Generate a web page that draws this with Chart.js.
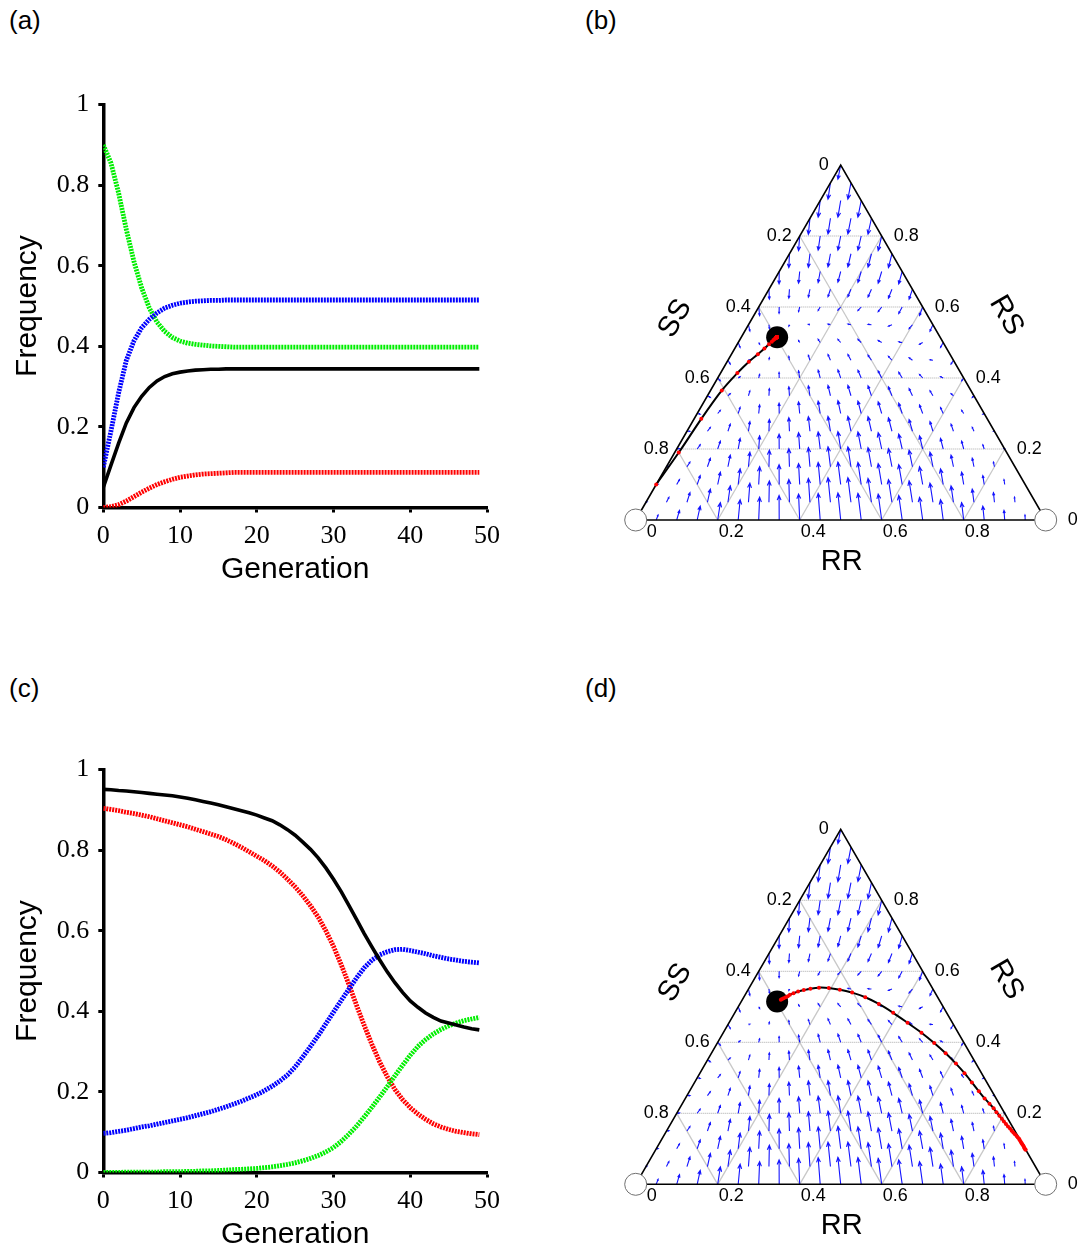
<!DOCTYPE html>
<html>
<head>
<meta charset="utf-8">
<title>Genotype dynamics</title>
<script src="https://cdn.jsdelivr.net/npm/chart.js@4.4.1/dist/chart.umd.min.js"></script>
<style>
  html, body { margin: 0; padding: 0; background: #fff; overflow: hidden; }
  body { position: relative; width: 1078px; height: 1250px; font-family: "Liberation Sans", Arial, sans-serif; }
  canvas { position: absolute; }
  .tag { position: absolute; font-size: 26px; line-height: 26px; color: #000; }
</style>
</head>
<body>
<div class="tag" style="left:9px; top:7px;">(a)</div>
<div class="tag" style="left:585px; top:7px;">(b)</div>
<div class="tag" style="left:9px; top:675px;">(c)</div>
<div class="tag" style="left:585px; top:675px;">(d)</div>

<canvas id="chart-a" width="510" height="520" style="left:0; top:80px; width:510px; height:520px;"></canvas>
<canvas id="chart-b" width="492" height="448" style="left:586px; top:136px; width:492px; height:448px;"></canvas>
<canvas id="chart-c" width="510" height="505" style="left:0; top:745px; width:510px; height:505px;"></canvas>
<canvas id="chart-d" width="492" height="448" style="left:586px; top:800px; width:492px; height:448px;"></canvas>

<script>
// ---------- data ----------
const generations = [0, 1, 2, 3, 4, 5, 6, 7, 8, 9, 10, 11, 12, 13, 14, 15, 16, 17, 18, 19,
  20, 21, 22, 23, 24, 25, 26, 27, 28, 29, 30, 31, 32, 33, 34, 35, 36, 37, 38, 39,
  40, 41, 42, 43, 44, 45, 46, 47, 48, 49];
const freqTicks = [0, 0.2, 0.4, 0.6, 0.8, 1];
const genTicks = [0, 10, 20, 30, 40, 50];
const ternaryTicks = [0, 0.2, 0.4, 0.6, 0.8];

// panel (a): R allele (black), RS (blue), SS (green), RR (red)
const aAlleleR = [0.05, 0.105, 0.16, 0.21, 0.248, 0.276, 0.298, 0.314, 0.325, 0.332,
  0.336, 0.339, 0.341, 0.342, 0.343, 0.343, 0.344, 0.344, 0.344, 0.344,
  0.344, 0.344, 0.344, 0.344, 0.344, 0.344, 0.344, 0.344, 0.344, 0.344,
  0.344, 0.344, 0.344, 0.344, 0.344, 0.344, 0.344, 0.344, 0.344, 0.344,
  0.344, 0.344, 0.344, 0.344, 0.344, 0.344, 0.344, 0.344, 0.344, 0.344];
const aRS = [0.10, 0.19, 0.285, 0.365, 0.414, 0.446, 0.467, 0.483, 0.495, 0.502,
  0.507, 0.51, 0.512, 0.513, 0.514, 0.514, 0.515, 0.515, 0.515, 0.515,
  0.515, 0.515, 0.515, 0.515, 0.515, 0.515, 0.515, 0.515, 0.515, 0.515,
  0.515, 0.515, 0.515, 0.515, 0.515, 0.515, 0.515, 0.515, 0.515, 0.515,
  0.515, 0.515, 0.515, 0.515, 0.515, 0.515, 0.515, 0.515, 0.515, 0.515];
const aSS = [0.90, 0.855, 0.78, 0.69, 0.61, 0.545, 0.495, 0.46, 0.437, 0.422,
  0.413, 0.408, 0.405, 0.403, 0.401, 0.400, 0.399, 0.398, 0.398, 0.398,
  0.398, 0.398, 0.398, 0.398, 0.398, 0.398, 0.398, 0.398, 0.398, 0.398,
  0.398, 0.398, 0.398, 0.398, 0.398, 0.398, 0.398, 0.398, 0.398, 0.398,
  0.398, 0.398, 0.398, 0.398, 0.398, 0.398, 0.398, 0.398, 0.398, 0.398];
const aRR = [0, 0.002, 0.007, 0.016, 0.027, 0.038, 0.048, 0.057, 0.064, 0.070,
  0.075, 0.078, 0.081, 0.083, 0.084, 0.085, 0.086, 0.087, 0.087, 0.087,
  0.087, 0.087, 0.087, 0.087, 0.087, 0.087, 0.087, 0.087, 0.087, 0.087,
  0.087, 0.087, 0.087, 0.087, 0.087, 0.087, 0.087, 0.087, 0.087, 0.087,
  0.087, 0.087, 0.087, 0.087, 0.087, 0.087, 0.087, 0.087, 0.087, 0.087];

// panel (c)
const cAlleleR = [0.951, 0.950, 0.948, 0.947, 0.945, 0.943, 0.941, 0.939, 0.937, 0.935,
  0.932, 0.929, 0.925, 0.921, 0.917, 0.913, 0.908, 0.903, 0.898, 0.893,
  0.887, 0.880, 0.873, 0.863, 0.851, 0.837, 0.820, 0.802, 0.781, 0.756,
  0.728, 0.697, 0.663, 0.628, 0.593, 0.560, 0.528, 0.498, 0.471, 0.447,
  0.426, 0.410, 0.396, 0.385, 0.376, 0.371, 0.366, 0.361, 0.357, 0.354];
const cRS = [0.097, 0.099, 0.102, 0.105, 0.109, 0.113, 0.116, 0.120, 0.124, 0.128,
  0.132, 0.136, 0.141, 0.146, 0.151, 0.157, 0.163, 0.170, 0.177, 0.185,
  0.193, 0.203, 0.214, 0.227, 0.242, 0.262, 0.287, 0.313, 0.340, 0.369,
  0.398, 0.427, 0.455, 0.483, 0.508, 0.527, 0.540, 0.548, 0.553, 0.554,
  0.551, 0.547, 0.543, 0.538, 0.534, 0.530, 0.527, 0.524, 0.522, 0.520];
const cSS = [0.000, 0.000, 0.000, 0.001, 0.001, 0.001, 0.001, 0.001, 0.002, 0.002,
  0.002, 0.003, 0.003, 0.004, 0.004, 0.005, 0.006, 0.007, 0.008, 0.009,
  0.010, 0.012, 0.014, 0.017, 0.020, 0.024, 0.029, 0.035, 0.042, 0.051,
  0.062, 0.077, 0.095, 0.115, 0.138, 0.162, 0.187, 0.213, 0.240, 0.266,
  0.291, 0.313, 0.330, 0.344, 0.355, 0.364, 0.371, 0.377, 0.381, 0.385];
const cRR = [0.904, 0.901, 0.898, 0.894, 0.891, 0.887, 0.883, 0.878, 0.873, 0.868,
  0.863, 0.858, 0.852, 0.846, 0.840, 0.834, 0.826, 0.817, 0.807, 0.796,
  0.785, 0.774, 0.761, 0.746, 0.728, 0.709, 0.687, 0.662, 0.634, 0.600,
  0.561, 0.516, 0.467, 0.415, 0.365, 0.318, 0.275, 0.238, 0.206, 0.181,
  0.161, 0.145, 0.132, 0.121, 0.113, 0.107, 0.102, 0.099, 0.096, 0.094];

// equilibria in (R allele, RS) coordinates
const stablePoint = [0.345, 0.515];
const unstablePoints = [[0, 0], [1, 0]];

// direction field: lattice step 0.05; rows from RS=0 upward,
// change in RS (percent) at each lattice point, left to right
const fieldStep = 0.05;
const fieldRows = [
  [0, 1.4, 2.7, 3.9, 4.9, 5.7, 6.4, 6.9, 7.3, 7.5, 7.6, 7.5, 7.3, 6.9, 6.4, 5.7, 4.9, 3.9, 2.7, 1.4, 0],
  [0.1, 1.4, 2.7, 3.7, 4.6, 5.4, 6.0, 6.4, 6.7, 6.9, 6.9, 6.7, 6.4, 6.0, 5.4, 4.6, 3.7, 2.7, 1.4, 0.1],
  [0.1, 1.4, 2.5, 3.5, 4.4, 5.0, 5.6, 5.9, 6.2, 6.3, 6.2, 5.9, 5.6, 5.0, 4.4, 3.5, 2.5, 1.4, 0.1],
  [0.1, 1.3, 2.4, 3.3, 4.1, 4.7, 5.1, 5.4, 5.6, 5.6, 5.4, 5.1, 4.7, 4.1, 3.3, 2.4, 1.3, 0.1],
  [0.1, 1.2, 2.2, 3.0, 3.7, 4.2, 4.6, 4.8, 4.9, 4.8, 4.6, 4.2, 3.7, 3.0, 2.2, 1.2, 0.1],
  [0, 1.1, 2.0, 2.7, 3.3, 3.8, 4.1, 4.2, 4.2, 4.1, 3.8, 3.3, 2.7, 2.0, 1.1, 0],
  [-0.2, 0.9, 1.7, 2.4, 2.9, 3.3, 3.5, 3.6, 3.5, 3.3, 2.9, 2.4, 1.7, 0.9, -0.2],
  [-0.5, 0.6, 1.4, 2.0, 2.5, 2.8, 2.9, 2.9, 2.8, 2.5, 2.0, 1.4, 0.6, -0.5],
  [-0.8, 0.4, 1.0, 1.6, 2.0, 2.2, 2.3, 2.2, 2.0, 1.6, 1.0, 0.4, -0.8],
  [-1.1, 0.1, 0.7, 1.1, 1.4, 1.6, 1.6, 1.4, 1.1, 0.7, 0.1, -1.1],
  [-1.4, -0.5, 0.2, 0.6, 0.9, 0.9, 0.9, 0.6, 0.2, -0.5, -1.4],
  [-1.8, -1.1, -0.4, 0.1, 0.2, 0.2, 0.1, -0.4, -1.1, -1.8],
  [-2.4, -1.8, -1.3, -1.0, -0.9, -1.0, -1.3, -1.8, -2.4],
  [-2.8, -2.5, -2.2, -2.1, -2.1, -2.2, -2.5, -2.8],
  [-3.5, -3.3, -3.1, -3.0, -3.1, -3.3, -3.5],
  [-3.9, -3.8, -3.7, -3.7, -3.8, -3.9],
  [-4.1, -4.0, -4.0, -4.0, -4.1],
  [-4.5, -4.4, -4.4, -4.5],
  [-4.7, -4.7, -4.7],
  [-4.6, -4.6],
  [-4.0]
];
// change in R allele frequency (percent), indexed by allele frequency in steps of 0.025
const fieldDp = [0, 0.27, 0.47, 0.61, 0.69, 0.74, 0.74, 0.71, 0.65, 0.57,
  0.47, 0.35, 0.23, 0.10, -0.03, -0.15, -0.28, -0.39, -0.50, -0.60,
  -0.68, -0.75, -0.80, -0.84, -0.86, -0.86, -0.85, -0.82, -0.78, -0.73,
  -0.66, -0.59, -0.51, -0.42, -0.34, -0.25, -0.17, -0.11, -0.05, -0.01, 0];

// ---------- time series panels ----------
const tickFont = { family: '"Liberation Serif", "Times New Roman", serif', size: 26 };
const titleFont = { family: '"Liberation Sans", Arial, sans-serif', size: 30, lineHeight: 1 };
const gridOpts = { display: true, drawOnChartArea: false, drawTicks: true, tickLength: 5, tickWidth: 3, tickColor: '#000' };
const borderOpts = { display: true, color: '#000', width: 3.5 };

function seriesChart(id, padTop, axisHeight, titleGap, lines) {
  return new Chart(document.getElementById(id), {
    type: 'line',
    data: {
      datasets: lines.map(l => ({
        data: generations.map((g, i) => ({ x: g, y: l.values[i] })),
        borderColor: l.color,
        borderWidth: l.dashed ? 4.8 : 3.6,
        borderDash: l.dashed ? [2, 1] : [],
        pointRadius: 0,
        fill: false,
        tension: 0
      }))
    },
    options: {
      responsive: false,
      animation: false,
      events: [],
      layout: { autoPadding: false, padding: { top: padTop, right: 23, left: 0, bottom: 0 } },
      plugins: { legend: { display: false }, tooltip: { enabled: false } },
      scales: {
        x: {
          type: 'linear', min: 0, max: 50,
          afterBuildTicks: s => { s.ticks = genTicks.map(v => ({ value: v })); },
          afterFit: s => { s.height = axisHeight; },
          ticks: { font: tickFont, color: '#000', padding: 8, maxRotation: 0, autoSkip: false },
          grid: gridOpts,
          border: borderOpts,
          title: { display: true, text: 'Generation', font: titleFont, color: '#000', padding: { top: 0, bottom: titleGap } }
        },
        y: {
          type: 'linear', min: 0, max: 1,
          afterBuildTicks: s => { s.ticks = freqTicks.map(v => ({ value: v })); },
          afterFit: s => { s.width = 103.3; },
          ticks: { font: tickFont, color: '#000', padding: 9, autoSkip: false, callback: v => String(v) },
          grid: gridOpts,
          border: borderOpts,
          title: { display: true, text: 'Frequency', font: titleFont, color: '#000', padding: { top: 13, bottom: 0 } }
        }
      }
    }
  });
}

seriesChart('chart-a', 19, 92.5, 15, [
  { values: aAlleleR, color: '#000000', dashed: false },
  { values: aRS, color: '#0000ff', dashed: true },
  { values: aSS, color: '#00ee00', dashed: true },
  { values: aRR, color: '#ff0000', dashed: true }
]);
seriesChart('chart-c', 19, 77.5, 0, [
  { values: cAlleleR, color: '#000000', dashed: false },
  { values: cRS, color: '#0000ff', dashed: true },
  { values: cSS, color: '#00ee00', dashed: true },
  { values: cRR, color: '#ff0000', dashed: true }
]);

// ---------- ternary panels ----------
function drawArrow(ctx, x0, y0, x1, y1) {
  const dx = x1 - x0, dy = y1 - y0;
  const len = Math.hypot(dx, dy);
  if (len < 0.6) return;
  const head = Math.max(1.5, Math.min(5, len * 0.3));
  const a = Math.atan2(dy, dx);
  ctx.beginPath();
  ctx.moveTo(x0, y0);
  ctx.lineTo(x1, y1);
  ctx.moveTo(x1 - head * Math.cos(a - 0.4), y1 - head * Math.sin(a - 0.4));
  ctx.lineTo(x1, y1);
  ctx.lineTo(x1 - head * Math.cos(a + 0.4), y1 - head * Math.sin(a + 0.4));
  ctx.stroke();
}

const ternaryPlugin = {
  id: 'ternary',
  beforeDatasetsDraw(chart) {
    const { ctx, scales: { x, y } } = chart;
    const P = (p, h) => [x.getPixelForValue(p), y.getPixelForValue(h)];
    const seg = (a, b) => { ctx.beginPath(); ctx.moveTo(a[0], a[1]); ctx.lineTo(b[0], b[1]); ctx.stroke(); };
    ctx.save();
    // diagonal grid
    ctx.strokeStyle = '#c8c8c8';
    ctx.lineWidth = 1.3;
    ternaryTicks.slice(1).forEach(t => {
      seg(P(t, 0), P(t / 2, t));
      seg(P(t, 0), P((1 + t) / 2, 1 - t));
    });
    // horizontal dotted grid
    ctx.setLineDash([1, 1]);
    ctx.strokeStyle = '#a8a8a8';
    ctx.lineWidth = 1;
    ternaryTicks.slice(1).forEach(t => seg(P(t / 2, t), P(1 - t / 2, t)));
    ctx.setLineDash([]);
    // direction field
    ctx.strokeStyle = 'rgb(20, 20, 255)';
    ctx.lineWidth = 1.1;
    fieldRows.forEach((row, r) => {
      const h = r * fieldStep;
      row.forEach((dh, k) => {
        const p = r * fieldStep / 2 + k * fieldStep;
        const dp = fieldDp[r + 2 * k];
        const a = P(p, h);
        const b = P(p + dp / 100, h + dh / 100);
        drawArrow(ctx, a[0], a[1], b[0], b[1]);
      });
    });
    // triangle frame
    ctx.strokeStyle = '#000';
    ctx.lineWidth = 1.6;
    const c0 = P(0, 0), c1 = P(0.5, 1), c2 = P(1, 0);
    ctx.beginPath();
    ctx.moveTo(c0[0], c0[1]);
    ctx.lineTo(c1[0], c1[1]);
    ctx.lineTo(c2[0], c2[1]);
    ctx.closePath();
    ctx.stroke();
    ctx.restore();
  },
  afterDraw(chart) {
    const { ctx, scales: { x, y } } = chart;
    const P = (p, h) => [x.getPixelForValue(p), y.getPixelForValue(h)];
    ctx.save();
    ctx.fillStyle = '#000';
    ctx.font = '18px "Liberation Sans", Arial, sans-serif';
    ctx.textBaseline = 'middle';
    ternaryTicks.forEach(t => {
      const gap = t === 0 ? 10 : 0;
      // RR along the base
      let q = P(t, 0);
      ctx.textAlign = 'left';
      ctx.fillText(String(t), q[0] + 1 + gap, q[1] + 12);
      // RS along the right edge
      q = P(1 - t / 2, t);
      ctx.fillText(String(t), q[0] + 12 + gap, q[1]);
      // SS along the left edge
      q = P((1 - t) / 2, 1 - t);
      ctx.textAlign = 'right';
      ctx.fillText(String(t), q[0] - 8 - (t === 0 ? 4 : 0), q[1]);
    });
    ctx.font = '29px "Liberation Sans", Arial, sans-serif';
    ctx.textAlign = 'center';
    let q = P(0.5, 0);
    ctx.fillText('RR', q[0] + 1, q[1] + 42);
    q = P(0.25, 0.5);
    ctx.save();
    ctx.translate(q[0] - 63, q[1] - 24);
    ctx.rotate(-Math.PI / 3);
    ctx.fillText('SS', 0, 0);
    ctx.restore();
    q = P(0.75, 0.5);
    ctx.save();
    ctx.translate(q[0] + 63, q[1] - 27);
    ctx.rotate(Math.PI / 3);
    ctx.fillText('RS', 0, 0);
    ctx.restore();
    ctx.restore();
  }
};

function ternaryChart(id, cornerLeft, cornerTop, alleleR, rs) {
  const canvas = document.getElementById(id);
  const xMin = -cornerLeft / 410, xMax = xMin + canvas.width / 410;
  const yMax = cornerTop / 355, yMin = yMax - canvas.height / 355;
  return new Chart(canvas, {
    type: 'scatter',
    data: {
      datasets: [
        {
          data: generations.map((g, i) => ({ x: alleleR[i], y: rs[i] })),
          showLine: true,
          borderColor: '#000',
          borderWidth: 2,
          tension: 0.3,
          pointRadius: 2,
          pointBackgroundColor: '#ff0000',
          pointBorderWidth: 0
        },
        {
          data: [{ x: stablePoint[0], y: stablePoint[1] }],
          pointRadius: 11,
          pointBackgroundColor: '#000',
          pointBorderWidth: 0
        },
        {
          data: unstablePoints.map(u => ({ x: u[0], y: u[1] })),
          pointRadius: 11,
          pointBackgroundColor: '#fff',
          pointBorderColor: '#707070',
          pointBorderWidth: 1
        }
      ]
    },
    options: {
      responsive: false,
      animation: false,
      events: [],
      layout: { autoPadding: false, padding: 0 },
      plugins: { legend: { display: false }, tooltip: { enabled: false } },
      scales: {
        x: { type: 'linear', display: false, min: xMin, max: xMax },
        y: { type: 'linear', display: false, min: yMin, max: yMax }
      }
    },
    plugins: [ternaryPlugin]
  });
}

ternaryChart('chart-b', 49.7, 384, aAlleleR, aRS);
ternaryChart('chart-d', 49.7, 384.3, cAlleleR, cRS);
</script>
</body>
</html>
